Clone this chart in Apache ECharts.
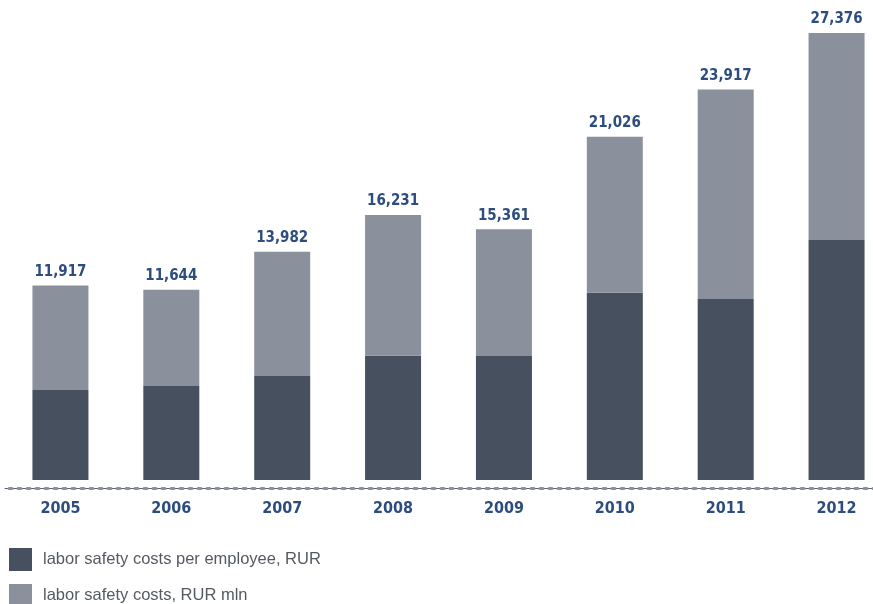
<!DOCTYPE html>
<html>
<head>
<meta charset="utf-8">
<script src="https://cdn.jsdelivr.net/npm/echarts@6/dist/echarts.min.js"></script>
<style>html,body{margin:0;padding:0;background:#fff;overflow:hidden}#c{width:892px;height:604px}</style>
</head>
<body>
<div id="c"></div>
<script>
var years = ['2005','2006','2007','2008','2009','2010','2011','2012'];
var perEmployee = [5512, 5757, 6369, 7613, 7594, 11471, 11085, 14699];
var costsMln = [6405, 5887, 7613, 8618, 7767, 9555, 12832, 12677];
var totals = [11917, 11644, 13982, 16231, 15361, 21026, 23917, 27376];
var totalLabels = ['11,917','11,644','13,982','16,231','15,361','21,026','23,917','27,376'];

var chart = echarts.init(document.getElementById('c'));
var labelFont = 'DejaVu Sans Condensed';
var legendText = {fontFamily: 'Liberation Sans', fontSize: 16.5, color: '#555a62', padding: [0,0,0,6]};
chart.setOption({
  animation: false,
  grid: {left: 5, right: 0, top: 33, bottom: 124},
  legend: [{
    orient: 'vertical', left: 9, top: 548, padding: 0, itemWidth: 23, itemHeight: 23,
    icon: 'rect', textStyle: legendText,
    data: ['labor safety costs per employee, RUR']
  }, {
    orient: 'vertical', left: 9, top: 584, padding: 0, itemWidth: 23, itemHeight: 23,
    icon: 'rect', textStyle: legendText,
    data: ['labor safety costs, RUR mln']
  }],
  xAxis: [{
    type: 'category', data: years, offset: 8,
    axisLine: {onZero: false, lineStyle: {color: '#5a606a', width: 1}},
    axisTick: {show: false},
    axisLabel: {margin: 13, fontFamily: labelFont, fontWeight: 'bold', fontSize: 16, color: '#2d4d7f'}
  }, {
    type: 'category', data: years, offset: 8, position: 'bottom',
    axisLine: {onZero: false, lineStyle: {color: '#8a919d', width: 3, type: [3, 6], dashOffset: -4}},
    axisTick: {show: false}, axisLabel: {show: false}
  }],
  yAxis: {type: 'value', min: 0, max: function (v) { return v.max; }, show: false, splitLine: {show: false}},
  series: [{
    name: 'labor safety costs per employee, RUR', type: 'bar', stack: 's', barWidth: 56,
    data: perEmployee, itemStyle: {color: '#46505e'}
  }, {
    name: 'labor safety costs, RUR mln', type: 'bar', stack: 's', barWidth: 56,
    data: costsMln, itemStyle: {color: '#8a919d'},
    label: {
      show: true, position: 'top', distance: 6,
      fontFamily: labelFont, fontSize: 15, fontWeight: 'bold', color: '#2d4d7f',
      formatter: function (p) { return totalLabels[p.dataIndex]; }
    }
  }]
});
</script>
</body>
</html>
